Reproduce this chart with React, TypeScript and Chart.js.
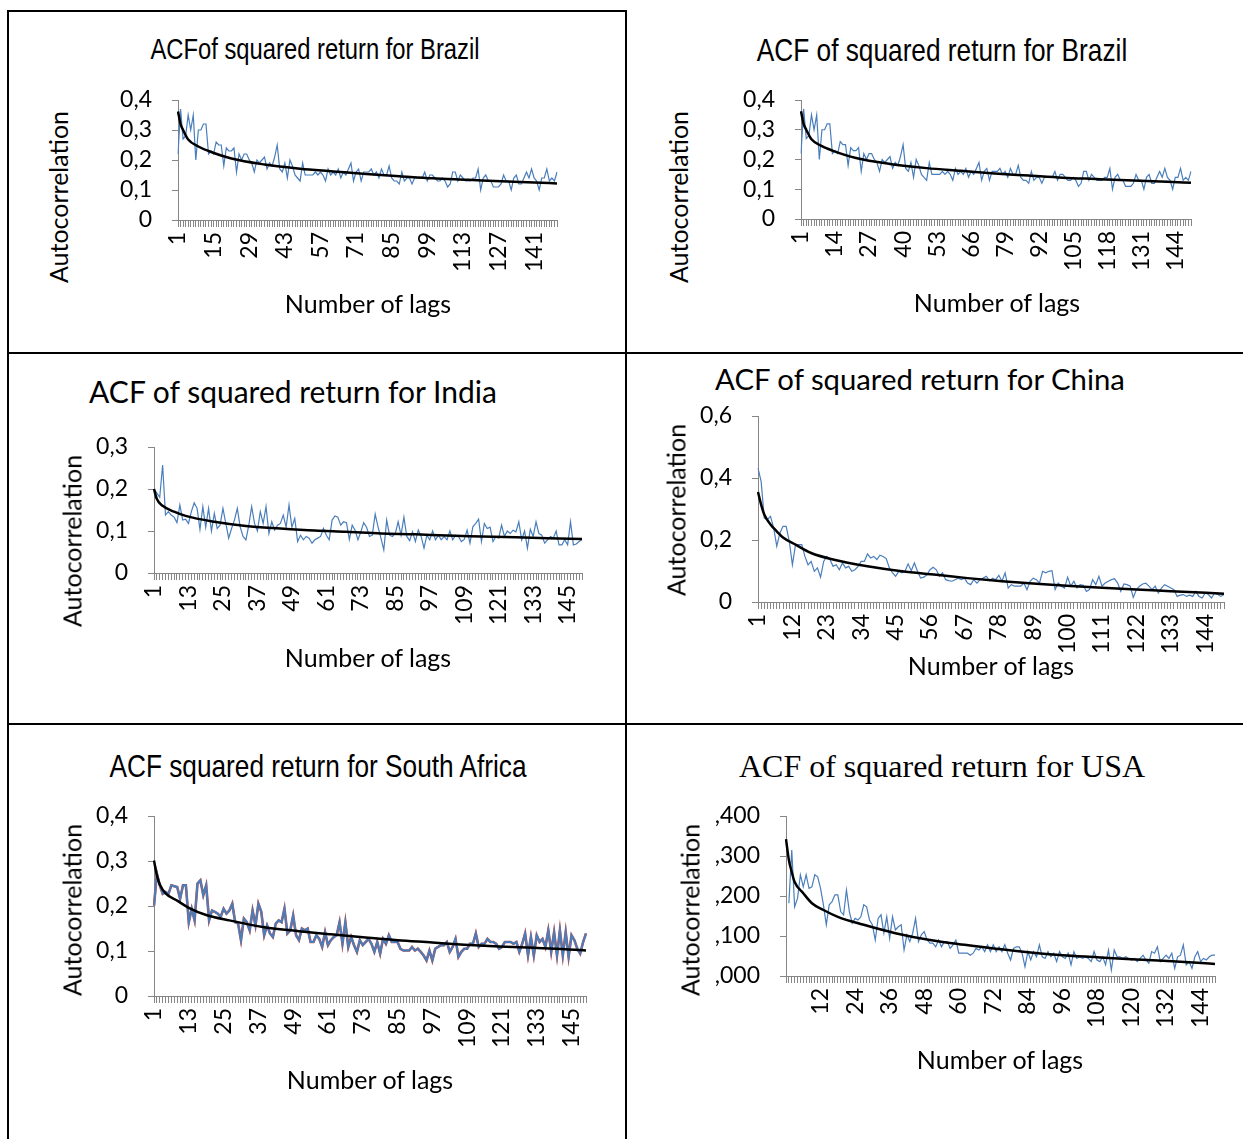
import React, { useEffect, useRef } from 'react';
import { Chart, registerables } from 'chart.js';

Chart.register(...registerables);

// ---------- categories (lags) ----------
const lags1to150: string[] = Array.from({ length: 150 }, (_, i) => String(i + 1));
const lags0to149: string[] = Array.from({ length: 150 }, (_, i) => (i === 0 ? '' : String(i)));

// ---------- Brazil: ACF of squared returns (lags 1..150) ----------
const brazilAcf: number[] = [
  0.22, 0.37, 0.27, 0.28, 0.35, 0.30, 0.35, 0.20, 0.30, 0.30,
  0.32, 0.32, 0.22, 0.23, 0.22, 0.26, 0.25, 0.25, 0.18, 0.24,
  0.23, 0.23, 0.24, 0.16, 0.22, 0.20, 0.22, 0.22, 0.20, 0.19,
  0.16, 0.20, 0.19, 0.20, 0.21, 0.17, 0.19, 0.18, 0.21, 0.25,
  0.17, 0.16, 0.19, 0.14, 0.20, 0.18, 0.15, 0.14, 0.13, 0.19,
  0.15, 0.15, 0.15, 0.15, 0.16, 0.15, 0.16, 0.15, 0.13, 0.17,
  0.15, 0.16, 0.15, 0.17, 0.14, 0.16, 0.15, 0.17, 0.19, 0.13,
  0.16, 0.17, 0.13, 0.16, 0.16, 0.16, 0.17, 0.15, 0.16, 0.14,
  0.17, 0.15, 0.15, 0.18, 0.14, 0.13, 0.13, 0.12, 0.16, 0.13,
  0.14, 0.14, 0.12, 0.14, 0.14, 0.14, 0.14, 0.16, 0.13, 0.15,
  0.15, 0.14, 0.13, 0.13, 0.14, 0.13, 0.11, 0.12, 0.16, 0.16,
  0.13, 0.15, 0.14, 0.13, 0.13, 0.13, 0.14, 0.14, 0.17, 0.10,
  0.14, 0.15, 0.13, 0.13, 0.11, 0.11, 0.11, 0.12, 0.15, 0.13,
  0.13, 0.10, 0.14, 0.15, 0.12, 0.12, 0.14, 0.16, 0.14, 0.17,
  0.14, 0.13, 0.10, 0.14, 0.14, 0.17, 0.13, 0.14, 0.13, 0.16,
];
const brazilFitLags: number[] = [1, 2, 3, 5, 9, 13, 22, 35, 49, 62, 75, 88, 101, 115, 128, 141, 150];
const brazilFitValues: number[] = [0.362, 0.32, 0.30, 0.268, 0.245, 0.23, 0.205, 0.185, 0.171, 0.162, 0.153, 0.146, 0.139, 0.134, 0.129, 0.125, 0.122];

// ---------- India ----------
const indiaAcf: number[] = [
  0.200, 0.190, 0.180, 0.257, 0.138, 0.146, 0.138, 0.133, 0.120, 0.162,
  0.126, 0.128, 0.118, 0.146, 0.167, 0.154, 0.104, 0.158, 0.109, 0.154,
  0.100, 0.142, 0.106, 0.114, 0.154, 0.118, 0.083, 0.106, 0.126, 0.154,
  0.110, 0.087, 0.079, 0.114, 0.158, 0.118, 0.100, 0.146, 0.118, 0.158,
  0.094, 0.122, 0.102, 0.114, 0.118, 0.138, 0.109, 0.162, 0.109, 0.130,
  0.075, 0.090, 0.079, 0.087, 0.083, 0.071, 0.079, 0.083, 0.087, 0.106,
  0.090, 0.079, 0.126, 0.136, 0.133, 0.114, 0.122, 0.120, 0.080, 0.114,
  0.102, 0.079, 0.098, 0.120, 0.109, 0.087, 0.090, 0.140, 0.110, 0.083,
  0.055, 0.126, 0.090, 0.087, 0.094, 0.122, 0.090, 0.133, 0.087, 0.077,
  0.098, 0.075, 0.102, 0.087, 0.059, 0.090, 0.079, 0.100, 0.079, 0.090,
  0.079, 0.087, 0.079, 0.100, 0.079, 0.090, 0.087, 0.075, 0.080, 0.102,
  0.071, 0.110, 0.118, 0.128, 0.075, 0.118, 0.106, 0.109, 0.075, 0.087,
  0.083, 0.114, 0.087, 0.100, 0.094, 0.102, 0.098, 0.122, 0.079, 0.100,
  0.059, 0.104, 0.087, 0.122, 0.094, 0.090, 0.071, 0.079, 0.087, 0.083,
  0.100, 0.067, 0.067, 0.079, 0.067, 0.122, 0.067, 0.069, 0.075, 0.080,
];
const indiaFitLags: number[] = [1, 2, 4, 8, 12, 22, 33, 45, 57, 68, 80, 92, 103, 115, 127, 138, 150];
const indiaFitValues: number[] = [0.20, 0.176, 0.16, 0.146, 0.136, 0.122, 0.112, 0.106, 0.101, 0.098, 0.094, 0.092, 0.089, 0.087, 0.085, 0.083, 0.081];

// ---------- China ----------
const chinaAcf: number[] = [
  0.432, 0.389, 0.271, 0.266, 0.276, 0.239, 0.180, 0.223, 0.244, 0.244,
  0.196, 0.120, 0.185, 0.185, 0.185, 0.147, 0.120, 0.131, 0.099, 0.110,
  0.080, 0.131, 0.147, 0.137, 0.115, 0.120, 0.104, 0.126, 0.110, 0.115,
  0.099, 0.104, 0.115, 0.131, 0.131, 0.155, 0.142, 0.147, 0.137, 0.151,
  0.147, 0.140, 0.110, 0.094, 0.083, 0.099, 0.094, 0.099, 0.123, 0.101,
  0.126, 0.099, 0.077, 0.080, 0.088, 0.104, 0.112, 0.104, 0.083, 0.094,
  0.072, 0.069, 0.067, 0.072, 0.077, 0.072, 0.077, 0.061, 0.056, 0.072,
  0.061, 0.072, 0.077, 0.083, 0.069, 0.077, 0.072, 0.086, 0.067, 0.094,
  0.045, 0.056, 0.051, 0.051, 0.051, 0.061, 0.040, 0.067, 0.077, 0.072,
  0.061, 0.099, 0.094, 0.099, 0.101, 0.040, 0.061, 0.051, 0.045, 0.080,
  0.051, 0.067, 0.045, 0.056, 0.054, 0.034, 0.040, 0.072, 0.056, 0.083,
  0.051, 0.061, 0.067, 0.072, 0.075, 0.061, 0.034, 0.058, 0.056, 0.051,
  0.015, 0.040, 0.051, 0.058, 0.061, 0.051, 0.040, 0.051, 0.029, 0.045,
  0.056, 0.051, 0.045, 0.040, 0.018, 0.022, 0.024, 0.018, 0.022, 0.018,
  0.034, 0.018, 0.013, 0.029, 0.024, 0.013, 0.029, 0.024, 0.018, 0.024,
];
const chinaFitLags: number[] = [1, 2, 3, 5, 7, 9, 13, 18, 25, 36, 47, 58, 68, 79, 90, 101, 111, 122, 133, 150];
const chinaFitValues: number[] = [0.355, 0.314, 0.282, 0.25, 0.228, 0.208, 0.185, 0.158, 0.137, 0.115, 0.099, 0.088, 0.077, 0.067, 0.059, 0.052, 0.046, 0.040, 0.035, 0.027];

// ---------- South Africa ----------
const southAfricaAcf: number[] = [
  0.201, 0.272, 0.246, 0.227, 0.231, 0.227, 0.246, 0.244, 0.242, 0.216,
  0.246, 0.246, 0.164, 0.194, 0.168, 0.250, 0.257, 0.224, 0.246, 0.168,
  0.190, 0.187, 0.183, 0.176, 0.194, 0.183, 0.190, 0.205, 0.164, 0.161,
  0.124, 0.172, 0.164, 0.146, 0.190, 0.157, 0.205, 0.187, 0.135, 0.157,
  0.139, 0.131, 0.161, 0.168, 0.164, 0.194, 0.139, 0.146, 0.179, 0.135,
  0.124, 0.150, 0.146, 0.150, 0.120, 0.120, 0.135, 0.127, 0.109, 0.142,
  0.113, 0.124, 0.131, 0.135, 0.164, 0.116, 0.164, 0.109, 0.131, 0.113,
  0.098, 0.124, 0.113, 0.120, 0.127, 0.116, 0.098, 0.120, 0.094, 0.127,
  0.116, 0.135, 0.120, 0.120, 0.120, 0.105, 0.101, 0.101, 0.101, 0.109,
  0.101, 0.105, 0.098, 0.090, 0.079, 0.101, 0.079, 0.105, 0.109, 0.113,
  0.113, 0.120, 0.098, 0.109, 0.127, 0.087, 0.098, 0.105, 0.105, 0.116,
  0.116, 0.139, 0.109, 0.116, 0.116, 0.127, 0.120, 0.120, 0.116, 0.105,
  0.109, 0.120, 0.120, 0.120, 0.116, 0.120, 0.098, 0.116, 0.139, 0.090,
  0.131, 0.090, 0.135, 0.120, 0.127, 0.109, 0.146, 0.098, 0.142, 0.090,
  0.146, 0.090, 0.142, 0.087, 0.135, 0.124, 0.105, 0.094, 0.120, 0.139,
];
const southAfricaFitLags: number[] = [1, 2, 3, 5, 9, 13, 19, 27, 39, 51, 62, 74, 85, 97, 108, 120, 132, 143, 150];
const southAfricaFitValues: number[] = [0.301, 0.268, 0.248, 0.228, 0.212, 0.196, 0.18, 0.168, 0.153, 0.144, 0.137, 0.13, 0.124, 0.119, 0.114, 0.11, 0.107, 0.104, 0.101];

// ---------- USA (lag 0 .. 149, lag 0 left empty) ----------
const usaAcf: (number | null)[] = [
  null, 0.182, 0.315, 0.173, 0.194, 0.253, 0.223, 0.253, 0.219, 0.223,
  0.253, 0.248, 0.219, 0.178, 0.128, 0.178, 0.186, 0.203, 0.203, 0.161,
  0.153, 0.215, 0.161, 0.132, 0.144, 0.140, 0.148, 0.178, 0.173, 0.140,
  0.128, 0.090, 0.144, 0.153, 0.107, 0.148, 0.094, 0.148, 0.115, 0.123,
  0.128, 0.065, 0.103, 0.086, 0.107, 0.144, 0.086, 0.103, 0.111, 0.090,
  0.082, 0.082, 0.073, 0.090, 0.073, 0.086, 0.086, 0.069, 0.078, 0.090,
  0.057, 0.057, 0.057, 0.057, 0.052, 0.057, 0.069, 0.065, 0.073, 0.061,
  0.078, 0.061, 0.078, 0.061, 0.073, 0.061, 0.078, 0.057, 0.040, 0.069,
  0.073, 0.073, 0.057, 0.023, 0.061, 0.040, 0.061, 0.048, 0.078, 0.048,
  0.044, 0.061, 0.048, 0.057, 0.036, 0.061, 0.048, 0.044, 0.057, 0.028,
  0.061, 0.044, 0.048, 0.044, 0.048, 0.044, 0.036, 0.061, 0.040, 0.036,
  0.048, 0.028, 0.065, 0.015, 0.065, 0.048, 0.048, 0.044, 0.048, 0.044,
  0.040, 0.044, 0.036, 0.044, 0.052, 0.040, 0.032, 0.061, 0.057, 0.073,
  0.036, 0.044, 0.052, 0.044, 0.057, 0.019, 0.048, 0.052, 0.078, 0.028,
  0.036, 0.019, 0.048, 0.061, 0.036, 0.044, 0.040, 0.048, 0.052, 0.052,
];
const usaFitLags: number[] = [0, 1, 2, 3, 6, 9, 13, 18, 27, 38, 50, 62, 73, 85, 96, 108, 120, 131, 143, 149];
const usaFitValues: number[] = [0.342, 0.29, 0.26, 0.235, 0.207, 0.182, 0.165, 0.148, 0.128, 0.107, 0.09, 0.078, 0.068, 0.059, 0.052, 0.047, 0.042, 0.038, 0.033, 0.030];

// ---------- styling ----------
const AXIS = '#868686';
const BLUE = '#4a7ebb';
const RED = '#be4b48';
const LATO = 'Lato, Carlito, Calibri, sans-serif';
const SANS = '"Liberation Sans", Arial, sans-serif';
const SERIF = '"Liberation Serif", "Times New Roman", serif';
const Y_AXIS_W = 90;
const X_AXIS_H = 70;
const PAD_TOP = 16;
const PAD_RIGHT = 8;

const commaFmt = (v: number) => (Math.abs(v) < 1e-9 ? '0' : v.toFixed(1).replace('.', ','));
const usaFmt = (v: number) => ',' + String(Math.round(v * 1000)).padStart(3, '0');

type Series = { data: (number | null)[]; color: string; width: number };
type PanelSpec = {
  labels: string[];
  firstLag: number;
  series: Series[];
  fitLags: number[];
  fitValues: number[];
  every: number;
  yMax: number;
  yStep: number;
  yFormat: (v: number) => string;
  plot: { l: number; r: number; t: number; b: number };
};

function AcfChart({ spec }: { spec: PanelSpec }) {
  const ref = useRef<HTMLCanvasElement | null>(null);
  const { plot } = spec;
  const cw = Y_AXIS_W + (plot.r - plot.l) + PAD_RIGHT;
  const ch = PAD_TOP + (plot.b - plot.t) + X_AXIS_H;
  useEffect(() => {
    if (!ref.current) return;
    const fit: (number | null)[] = spec.labels.map(() => null);
    spec.fitLags.forEach((lag, k) => {
      fit[lag - spec.firstLag] = spec.fitValues[k];
    });
    const chart = new Chart(ref.current, {
      type: 'line',
      data: {
        labels: spec.labels,
        datasets: [
          {
            data: fit,
            borderColor: '#000',
            borderWidth: 2.5,
            pointRadius: 0,
            spanGaps: true,
            cubicInterpolationMode: 'monotone',
            fill: false,
          },
          ...spec.series.map((s) => ({
            data: s.data,
            borderColor: s.color,
            borderWidth: s.width,
            pointRadius: 0,
            tension: 0,
            fill: false,
          })),
        ],
      },
      options: {
        responsive: false,
        animation: false,
        devicePixelRatio: 1,
        events: [],
        layout: { padding: { top: PAD_TOP, right: PAD_RIGHT, left: 0, bottom: 0 } },
        plugins: { legend: { display: false }, tooltip: { enabled: false }, title: { display: false } },
        scales: {
          x: {
            type: 'category',
            offset: false,
            grid: { display: true, drawOnChartArea: false, drawTicks: true, tickLength: 7, color: AXIS, lineWidth: 1 },
            border: { display: true, color: AXIS, width: 1 },
            ticks: {
              autoSkip: false,
              maxRotation: 90,
              minRotation: 90,
              padding: 5,
              color: '#000',
              font: { family: LATO, size: 23 },
              callback: (_v: any, index: number) => (index % spec.every === 0 ? spec.labels[index] : ''),
            },
            afterFit: (s: any) => {
              s.height = X_AXIS_H;
              s.paddingLeft = 0;
              s.paddingRight = 0;
            },
          },
          y: {
            min: 0,
            max: spec.yMax,
            grid: { display: true, drawOnChartArea: false, drawTicks: true, tickLength: 6, color: AXIS, lineWidth: 1 },
            border: { display: true, color: AXIS, width: 1 },
            ticks: {
              autoSkip: false,
              stepSize: spec.yStep,
              padding: 20,
              color: '#000',
              font: { family: LATO, size: 23 },
              callback: (v: any) => spec.yFormat(Number(v)),
            },
            afterFit: (s: any) => {
              s.width = Y_AXIS_W;
              s.paddingTop = 0;
              s.paddingBottom = 0;
            },
          },
        },
      },
    } as any);
    return () => chart.destroy();
  }, [spec]);
  return (
    <canvas
      ref={ref}
      width={cw}
      height={ch}
      style={{ position: 'absolute', left: plot.l - Y_AXIS_W, top: plot.t - PAD_TOP, width: cw, height: ch }}
    />
  );
}

function Txt(props: { x: number; y: number; size: number; family: string; rotate?: boolean; sx?: number; children: React.ReactNode }) {
  return (
    <div
      style={{
        position: 'absolute',
        left: props.x,
        top: props.y,
        transform:
          'translate(-50%, -50%)' + (props.rotate ? ' rotate(-90deg)' : '') + (props.sx ? ` scaleX(${props.sx})` : ''),
        fontFamily: props.family,
        fontSize: props.size,
        lineHeight: 1,
        whiteSpace: 'nowrap',
        color: '#000',
      }}
    >
      {props.children}
    </div>
  );
}

function Line(props: { x: number; y: number; w: number; h: number }) {
  return <div style={{ position: 'absolute', left: props.x, top: props.y, width: props.w, height: props.h, background: '#000' }} />;
}

const panels: { spec: PanelSpec; title: string; titleFamily: string; titleSize: number; titleSx?: number; tx: number; ty: number; lx: number; ly: number; ax: number; ay: number }[] = [
  {
    spec: { labels: lags1to150, firstLag: 1, series: [{ data: brazilAcf, color: BLUE, width: 1.2 }], fitLags: brazilFitLags, fitValues: brazilFitValues, every: 14, yMax: 0.4, yStep: 0.1, yFormat: commaFmt, plot: { l: 178, r: 557, t: 100, b: 220 } },
    title: 'ACFof squared return for Brazil', titleFamily: SANS, titleSize: 29, titleSx: 0.82, tx: 315, ty: 49, lx: 368, ly: 303, ax: 58, ay: 197,
  },
  {
    spec: { labels: lags1to150, firstLag: 1, series: [{ data: brazilAcf, color: BLUE, width: 1.2 }], fitLags: brazilFitLags, fitValues: brazilFitValues, every: 13, yMax: 0.4, yStep: 0.1, yFormat: commaFmt, plot: { l: 801, r: 1191, t: 100, b: 219 } },
    title: 'ACF of squared return for Brazil', titleFamily: SANS, titleSize: 32, titleSx: 0.82, tx: 942, ty: 50, lx: 997, ly: 302, ax: 678, ay: 197,
  },
  {
    spec: { labels: lags1to150, firstLag: 1, series: [{ data: indiaAcf, color: BLUE, width: 1.2 }], fitLags: indiaFitLags, fitValues: indiaFitValues, every: 12, yMax: 0.3, yStep: 0.1, yFormat: commaFmt, plot: { l: 154, r: 582, t: 447, b: 573 } },
    title: 'ACF of squared return for India', titleFamily: LATO, titleSize: 30, tx: 293, ty: 391, lx: 368, ly: 657, ax: 72, ay: 541,
  },
  {
    spec: { labels: lags1to150, firstLag: 1, series: [{ data: chinaAcf, color: BLUE, width: 1.2 }], fitLags: chinaFitLags, fitValues: chinaFitValues, every: 11, yMax: 0.6, yStep: 0.2, yFormat: commaFmt, plot: { l: 758, r: 1224, t: 416, b: 602 } },
    title: 'ACF of squared return for China', titleFamily: LATO, titleSize: 29.3, tx: 920, ty: 379, lx: 991, ly: 665, ax: 676, ay: 510,
  },
  {
    spec: { labels: lags1to150, firstLag: 1, series: [{ data: southAfricaAcf, color: BLUE, width: 2 }, { data: southAfricaAcf, color: RED, width: 2.6 }], fitLags: southAfricaFitLags, fitValues: southAfricaFitValues, every: 12, yMax: 0.4, yStep: 0.1, yFormat: commaFmt, plot: { l: 154, r: 586, t: 816, b: 996 } },
    title: 'ACF squared return for South Africa', titleFamily: SANS, titleSize: 32, titleSx: 0.82, tx: 318, ty: 766, lx: 370, ly: 1079, ax: 72, ay: 910,
  },
  {
    spec: { labels: lags0to149, firstLag: 0, series: [{ data: usaAcf, color: BLUE, width: 1.2 }], fitLags: usaFitLags, fitValues: usaFitValues, every: 12, yMax: 0.4, yStep: 0.1, yFormat: usaFmt, plot: { l: 786, r: 1215, t: 816, b: 976 } },
    title: 'ACF of squared return for USA', titleFamily: SERIF, titleSize: 32, tx: 942, ty: 766, lx: 1000, ly: 1059, ax: 690, ay: 910,
  },
];

export default function App() {
  return (
    <div style={{ position: 'absolute', left: 0, top: 0, width: 1243, height: 1139, background: '#fff', overflow: 'hidden' }}>
      {/* table borders */}
      <Line x={8} y={10} w={619} h={2} />
      <Line x={7} y={10} w={2} h={1129} />
      <Line x={625} y={10} w={2} h={1129} />
      <Line x={7} y={352} w={1236} h={2} />
      <Line x={7} y={723} w={1236} h={2} />
      {panels.map((p, i) => (
        <React.Fragment key={i}>
          <AcfChart spec={p.spec} />
          <Txt x={p.tx} y={p.ty} size={p.titleSize} family={p.titleFamily} sx={p.titleSx}>{p.title}</Txt>
          <Txt x={p.lx} y={p.ly} size={25} family={LATO}>Number of lags</Txt>
          <Txt x={p.ax} y={p.ay} size={25} family={LATO} rotate>Autocorrelation</Txt>
        </React.Fragment>
      ))}
    </div>
  );
}
